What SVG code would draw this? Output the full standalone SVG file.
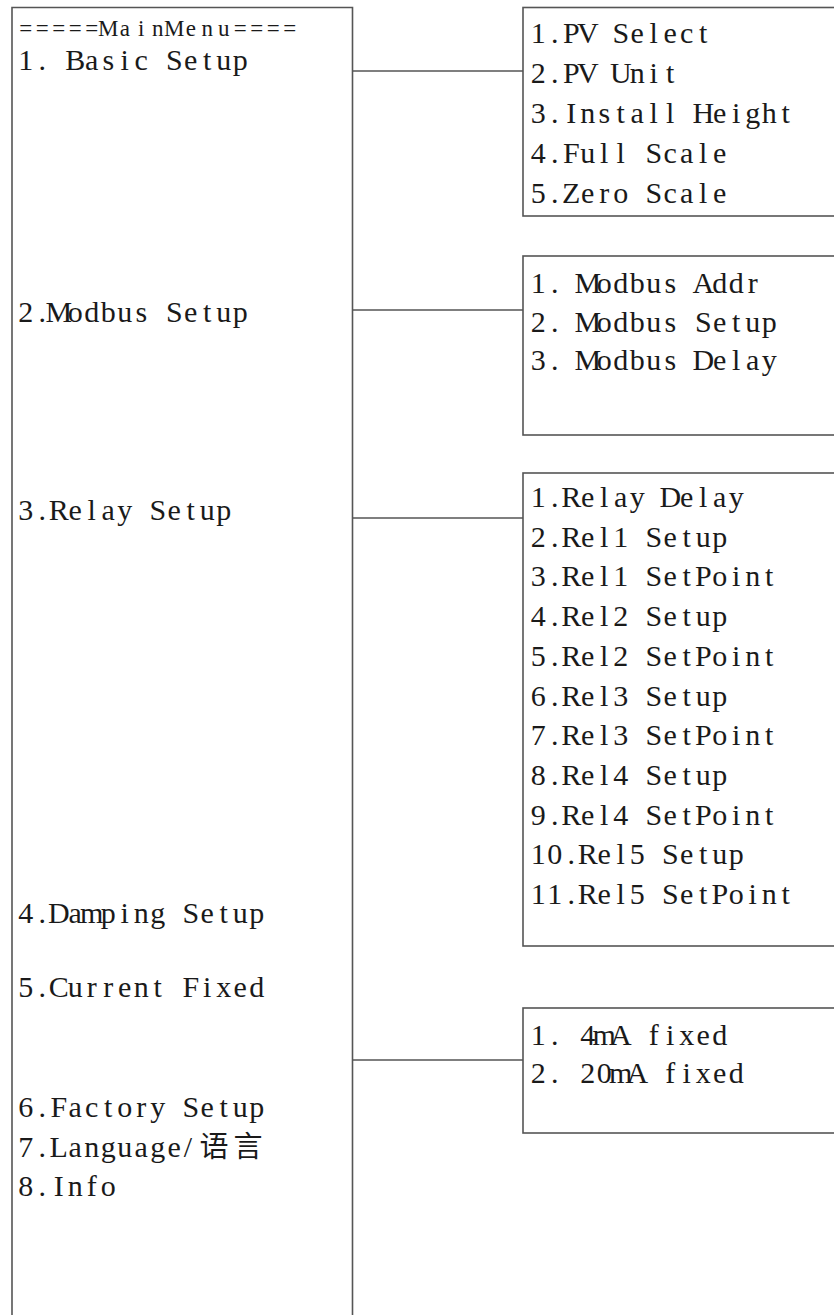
<svg xmlns="http://www.w3.org/2000/svg" width="834" height="1315" viewBox="0 0 834 1315" xml:space="preserve">
<style>
.box{fill:#fff;stroke:#555;stroke-width:1.6}
.con{fill:none;stroke:#555;stroke-width:1.5}
text{font-family:"Liberation Serif","Times New Roman",serif;font-size:30px;fill:#1a1a1a;text-anchor:middle}
text.title{font-size:23px}
.cjk{font-family:"Noto Sans CJK SC","Noto Sans CJK JP",sans-serif;font-size:29px}
</style>
<rect width="834" height="1315" fill="#fff"/>
<g id="main">
<path class="box" d="M12,1316 V7.5 H352.5 V1316"/>
<text class="title" x="25.75 42.25 58.75 75.25 91.75 108.25 124.75 141.25 157.75 174.25 190.75 207.25 223.75 240.25 256.75 273.25 289.75" y="36">=====MainMenu====</text>
<text x="25.75 42.25 58.75 75.25 91.75 108.25 124.75 141.25 157.75 174.25 190.75 207.25 223.75 240.25 256.75 273.25 289.75" y="70">1. Basic Setup</text>
<text x="25.75 42.25 58.75 75.25 91.75 108.25 124.75 141.25 157.75 174.25 190.75 207.25 223.75 240.25 256.75 273.25 289.75" y="322">2.Modbus Setup</text>
<text x="25.75 42.25 58.75 75.25 91.75 108.25 124.75 141.25 157.75 174.25 190.75 207.25 223.75 240.25 256.75 273.25 289.75" y="520">3.Relay Setup</text>
<text x="25.75 42.25 58.75 75.25 91.75 108.25 124.75 141.25 157.75 174.25 190.75 207.25 223.75 240.25 256.75 273.25 289.75" y="923">4.Damping Setup</text>
<text x="25.75 42.25 58.75 75.25 91.75 108.25 124.75 141.25 157.75 174.25 190.75 207.25 223.75 240.25 256.75 273.25 289.75" y="997">5.Current Fixed</text>
<text x="25.75 42.25 58.75 75.25 91.75 108.25 124.75 141.25 157.75 174.25 190.75 207.25 223.75 240.25 256.75 273.25 289.75" y="1117">6.Factory Setup</text>
<text x="25.75 42.25 58.75 75.25 91.75 108.25 124.75 141.25 157.75 174.25 188" y="1157">7.Language/<tspan class="cjk" x="214 248">语言</tspan></text>
<text x="25.75 42.25 58.75 75.25 91.75 108.25 124.75 141.25 157.75 174.25 190.75 207.25 223.75 240.25 256.75 273.25 289.75" y="1196">8.Info</text>
</g>
<g id="basic">
<rect class="box" x="523" y="7.5" width="320" height="208.5"/>
<text x="538.25 554.75 571.25 587.75 604.25 620.75 637.25 653.75 670.25 686.75 703.25 719.75 736.25 752.75 769.25 785.75 802.25" y="43">1.PV Select</text>
<text x="538.25 554.75 571.25 587.75 604.25 620.75 637.25 653.75 670.25 686.75 703.25 719.75 736.25 752.75 769.25 785.75 802.25" y="83">2.PV Unit</text>
<text x="538.25 554.75 571.25 587.75 604.25 620.75 637.25 653.75 670.25 686.75 703.25 719.75 736.25 752.75 769.25 785.75 802.25" y="123">3.Install Height</text>
<text x="538.25 554.75 571.25 587.75 604.25 620.75 637.25 653.75 670.25 686.75 703.25 719.75 736.25 752.75 769.25 785.75 802.25" y="163">4.Full Scale</text>
<text x="538.25 554.75 571.25 587.75 604.25 620.75 637.25 653.75 670.25 686.75 703.25 719.75 736.25 752.75 769.25 785.75 802.25" y="203">5.Zero Scale</text>
</g>
<g id="modbus">
<rect class="box" x="523" y="256" width="320" height="179"/>
<text x="538.25 554.75 571.25 587.75 604.25 620.75 637.25 653.75 670.25 686.75 703.25 719.75 736.25 752.75 769.25 785.75 802.25" y="293">1. Modbus Addr</text>
<text x="538.25 554.75 571.25 587.75 604.25 620.75 637.25 653.75 670.25 686.75 703.25 719.75 736.25 752.75 769.25 785.75 802.25" y="332">2. Modbus Setup</text>
<text x="538.25 554.75 571.25 587.75 604.25 620.75 637.25 653.75 670.25 686.75 703.25 719.75 736.25 752.75 769.25 785.75 802.25" y="370">3. Modbus Delay</text>
</g>
<g id="relay">
<rect class="box" x="523" y="473" width="320" height="473"/>
<text x="538.25 554.75 571.25 587.75 604.25 620.75 637.25 653.75 670.25 686.75 703.25 719.75 736.25 752.75 769.25 785.75 802.25" y="507">1.Relay Delay</text>
<text x="538.25 554.75 571.25 587.75 604.25 620.75 637.25 653.75 670.25 686.75 703.25 719.75 736.25 752.75 769.25 785.75 802.25" y="546.7">2.Rel1 Setup</text>
<text x="538.25 554.75 571.25 587.75 604.25 620.75 637.25 653.75 670.25 686.75 703.25 719.75 736.25 752.75 769.25 785.75 802.25" y="586.4">3.Rel1 SetPoint</text>
<text x="538.25 554.75 571.25 587.75 604.25 620.75 637.25 653.75 670.25 686.75 703.25 719.75 736.25 752.75 769.25 785.75 802.25" y="626.1">4.Rel2 Setup</text>
<text x="538.25 554.75 571.25 587.75 604.25 620.75 637.25 653.75 670.25 686.75 703.25 719.75 736.25 752.75 769.25 785.75 802.25" y="665.8">5.Rel2 SetPoint</text>
<text x="538.25 554.75 571.25 587.75 604.25 620.75 637.25 653.75 670.25 686.75 703.25 719.75 736.25 752.75 769.25 785.75 802.25" y="705.5">6.Rel3 Setup</text>
<text x="538.25 554.75 571.25 587.75 604.25 620.75 637.25 653.75 670.25 686.75 703.25 719.75 736.25 752.75 769.25 785.75 802.25" y="745.2">7.Rel3 SetPoint</text>
<text x="538.25 554.75 571.25 587.75 604.25 620.75 637.25 653.75 670.25 686.75 703.25 719.75 736.25 752.75 769.25 785.75 802.25" y="784.9">8.Rel4 Setup</text>
<text x="538.25 554.75 571.25 587.75 604.25 620.75 637.25 653.75 670.25 686.75 703.25 719.75 736.25 752.75 769.25 785.75 802.25" y="824.6">9.Rel4 SetPoint</text>
<text x="538.25 554.75 571.25 587.75 604.25 620.75 637.25 653.75 670.25 686.75 703.25 719.75 736.25 752.75 769.25 785.75 802.25" y="864.3">10.Rel5 Setup</text>
<text x="538.25 554.75 571.25 587.75 604.25 620.75 637.25 653.75 670.25 686.75 703.25 719.75 736.25 752.75 769.25 785.75 802.25" y="904">11.Rel5 SetPoint</text>
</g>
<g id="current">
<rect class="box" x="523" y="1008" width="320" height="125"/>
<text x="538.25 554.75 571.25 587.75 604.25 620.75 637.25 653.75 670.25 686.75 703.25 719.75 736.25 752.75 769.25 785.75 802.25" y="1045">1.  4mA fixed</text>
<text x="538.25 554.75 571.25 587.75 604.25 620.75 637.25 653.75 670.25 686.75 703.25 719.75 736.25 752.75 769.25 785.75 802.25" y="1083">2. 20mA fixed</text>
</g>
<g id="connectors">
<line class="con" x1="352.5" y1="71" x2="523" y2="71"/>
<line class="con" x1="352.5" y1="310" x2="523" y2="310"/>
<line class="con" x1="352.5" y1="518" x2="523" y2="518"/>
<line class="con" x1="352.5" y1="1060" x2="523" y2="1060"/>
</g>
</svg>
